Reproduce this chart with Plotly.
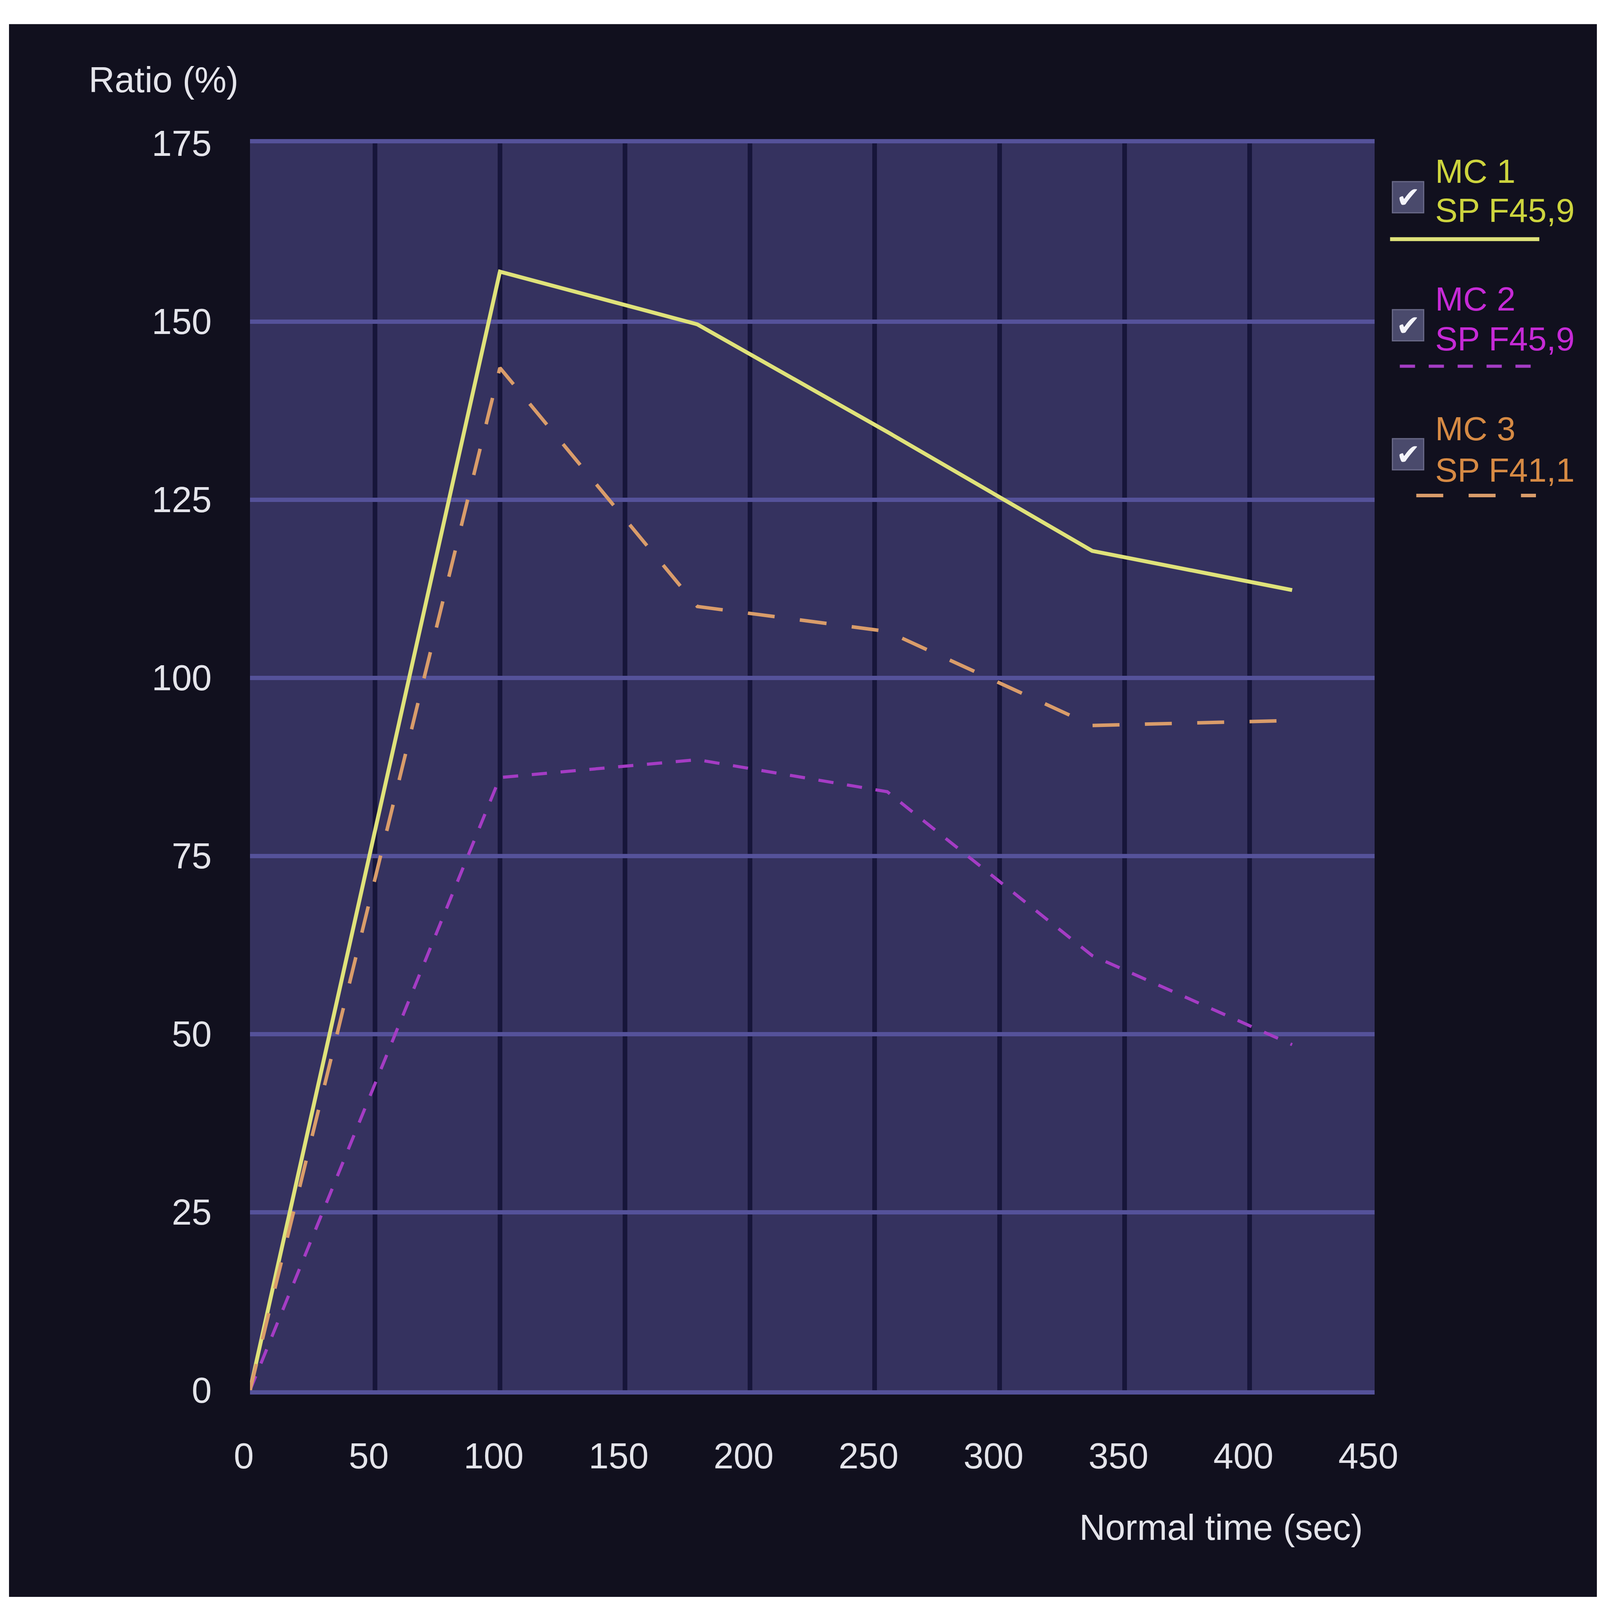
import plotly.graph_objects as go

# ---------------- data ----------------
time_sec = [0, 100, 179, 255, 337, 417]
mc1 = [0, 157.0, 149.6, 134.5, 117.8, 112.3]
mc2 = [0, 86.0, 88.5, 84.0, 61.0, 48.5]
mc3 = [0, 143.5, 110.0, 106.5, 93.3, 94.0]

series_names = ["MC 1", "MC 2", "MC 3"]
series_sub = ["SP F45,9", "SP F45,9", "SP F41,1"]

x_ticks = [0, 50, 100, 150, 200, 250, 300, 350, 400, 450]
y_ticks = [0, 25, 50, 75, 100, 125, 150, 175]

# ---------------- geometry ----------------
# reference is 4761 x 4725; the page viewport observed here is about 4096 x 4096
REF_W, REF_H = 4761, 4725
VW, VH = 4096, 4096
BODY = 8
sx, sy = VW / REF_W, VH / REF_H
S = (sx + sy) / 2
FW, FH = VW - 2 * BODY, VH - 2 * BODY

def fx(rx):
    return rx * sx - BODY

def fy(ry):
    return ry * sy - BODY

L, R, T, B = fx(744), fx(4090), fy(423), fy(4105)

def px_x(rx):
    return (fx(rx) - L) / (R - L)

def px_y(ry):
    return (B - fy(ry)) / (B - T)

FONT = "Liberation Sans, Arial, sans-serif"
TXT = "#e4e4ea"
FS = round(106 * S)

line_cols = ["#dfe27a", "#a43cc4", "#d99c6a"]
text_cols = ["#cdd43e", "#c62ad6", "#d68a44"]
dashes = ["solid", f"{round(45*S)}px,{round(40*S)}px", f"{round(80*S)}px,{round(75*S)}px"]
widths = [round(12 * S), round(9 * S), round(10 * S)]

fig = go.Figure()
for name, ys, col, dash, w in zip(series_names, [mc1, mc2, mc3], line_cols, dashes, widths):
    fig.add_trace(go.Scatter(
        x=time_sec, y=ys, mode="lines", name=name,
        line=dict(color=col, width=w, dash=dash),
        showlegend=False,
    ))

shapes = []
annotations = []

# white strips of the reference scan border (top and left)
shapes.append(dict(type="rect", xref="paper", yref="paper",
                   x0=px_x(0) - 0.01, x1=px_x(REF_W) + 0.01, y0=px_y(71), y1=px_y(0) + 0.01,
                   fillcolor="white", line=dict(width=0), layer="above"))
shapes.append(dict(type="rect", xref="paper", yref="paper",
                   x0=px_x(0) - 0.01, x1=px_x(27), y0=px_y(REF_H) - 0.01, y1=px_y(0) + 0.01,
                   fillcolor="white", line=dict(width=0), layer="above"))

# custom legend (positions in reference pixels)
leg_top = [505, 882, 1265]
leg_sub = [620, 1000, 1387]
leg_box = [582, 960, 1341]
leg_line = [706, 1081, 1463]
leg_line_x = [(4136, 4580), (4165, 4568), (4214, 4570)]
for i in range(3):
    shapes.append(dict(type="rect", xref="paper", yref="paper",
                       x0=px_x(4143), x1=px_x(4236),
                       y0=px_y(leg_box[i] + 46), y1=px_y(leg_box[i] - 46),
                       fillcolor="#4a4a6c", line=dict(color="#6a6a88", width=3)))
    annotations.append(dict(xref="paper", yref="paper", x=px_x(4190), y=px_y(leg_box[i]),
                            text="✔", showarrow=False, xanchor="center", yanchor="middle",
                            font=dict(family="DejaVu Sans", size=round(86 * S), color="#f4f4fa")))
    annotations.append(dict(xref="paper", yref="paper", x=px_x(4268), y=px_y(leg_top[i]),
                            text=series_names[i], showarrow=False, xanchor="left", yanchor="middle",
                            font=dict(family=FONT, size=round(100 * S), color=text_cols[i])))
    annotations.append(dict(xref="paper", yref="paper", x=px_x(4268), y=px_y(leg_sub[i]),
                            text=series_sub[i], showarrow=False, xanchor="left", yanchor="middle",
                            font=dict(family=FONT, size=round(100 * S), color=text_cols[i])))
    shapes.append(dict(type="line", xref="paper", yref="paper",
                       x0=px_x(leg_line_x[i][0]), x1=px_x(leg_line_x[i][1]),
                       y0=px_y(leg_line[i]), y1=px_y(leg_line[i]),
                       line=dict(color=line_cols[i], width=widths[i], dash=dashes[i])))

# axis titles
annotations.append(dict(xref="paper", yref="paper", x=px_x(486), y=px_y(235),
                        text="Ratio (%)", showarrow=False, xanchor="center", yanchor="middle",
                        font=dict(family=FONT, size=FS, color=TXT)))
annotations.append(dict(xref="paper", yref="paper", x=px_x(4057), y=px_y(4510),
                        text="Normal time (sec)", showarrow=False, xanchor="right", yanchor="middle",
                        font=dict(family=FONT, size=FS, color=TXT)))

fig.update_layout(
    autosize=True,
    margin=dict(l=round(L), r=round(FW - R), t=round(T), b=round(FH - B), pad=0),
    paper_bgcolor="#11101e",
    plot_bgcolor="#35325f",
    shapes=shapes,
    annotations=annotations,
    showlegend=False,
    font=dict(family=FONT, color=TXT),
)
fig.update_xaxes(
    range=[0, 450], tickvals=x_ticks, ticktext=[str(v) for v in x_ticks],
    showgrid=True, gridcolor="#17163a", gridwidth=round(14 * S), zeroline=False,
    showline=True, mirror=True, linecolor="#55529a", linewidth=round(13 * S),
    ticks="", ticklabelstandoff=round(92 * S), ticklabelshift=round(-18 * S),
    tickfont=dict(family=FONT, size=FS, color=TXT),
)
fig.update_yaxes(
    range=[0, 175], tickvals=y_ticks, ticktext=[str(v) for v in y_ticks],
    showgrid=True, gridcolor="#55529a", gridwidth=round(13 * S), zeroline=False,
    showline=False, ticks="", ticklabelstandoff=round(112 * S),
    tickfont=dict(family=FONT, size=FS, color=TXT),
)

fig.write_html("out.html")
